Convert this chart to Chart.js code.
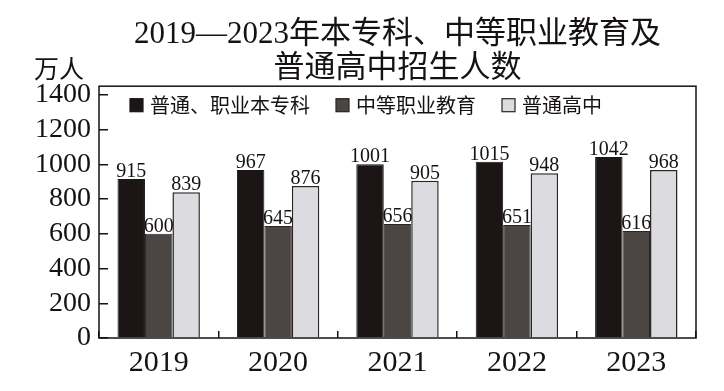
<!DOCTYPE html>
<html>
<head>
<meta charset="utf-8">
<script src="https://cdn.jsdelivr.net/npm/chart.js@4.4.1/dist/chart.umd.min.js"></script>
<style>
  html, body { margin: 0; padding: 0; background: #fff; }
  #wrap { width: 724px; height: 391px; position: relative; }
</style>
</head>
<body>
<div id="wrap"><canvas id="chart"></canvas></div>
<script>
// ── DATA ─────────────────────────────────────────────────────
const years        = ['2019', '2020', '2021', '2022', '2023'];
const higherEd     = [915, 967, 1001, 1015, 1042];   // 普通、职业本专科
const secondaryVoc = [600, 645, 656, 651, 616];      // 中等职业教育
const highSchool   = [839, 876, 905, 948, 968];      // 普通高中
const seriesNames  = ['普通、职业本专科', '中等职业教育', '普通高中'];
const titleLines   = ['2019—2023年本专科、中等职业教育及', '普通高中招生人数'];
const yUnit        = '万人';
const yTicks       = [0, 200, 400, 600, 800, 1000, 1200, 1400];
const yMin = 0, yMax = 1450;

// ── STYLE ────────────────────────────────────────────────────
const INK   = '#161212';
const SERIF = '"Liberation Serif", "Times New Roman", serif';
const CJK   = '"Noto Sans CJK SC", "Noto Sans", sans-serif';

// value labels; middle series drawn under the bars like the print
function drawLabels(chart, which) {
  const ctx = chart.ctx;
  ctx.save();
  ctx.font = '20px ' + SERIF;
  ctx.fillStyle = INK;
  ctx.textAlign = 'center';
  ctx.textBaseline = 'alphabetic';
  which.forEach(di => {
    chart.getDatasetMeta(di).data.forEach((bar, i) => {
      ctx.fillText(chart.data.datasets[di].data[i], bar.x, bar.y - 2);
    });
  });
  ctx.restore();
}

// legend row inside the plot frame, top-left
function drawLegend(chart) {
  const { ctx, chartArea: a } = chart;
  ctx.save();
  ctx.font = '20px ' + CJK;
  ctx.textBaseline = 'middle';
  ctx.textAlign = 'left';
  let x = a.left + 31;
  const y = a.top + 19;
  chart.data.datasets.forEach(ds => {
    ctx.fillStyle = ds.backgroundColor;
    ctx.fillRect(x, y - 6.5, 13, 13);
    ctx.strokeStyle = ds.borderColor;
    ctx.lineWidth = 1.2;
    ctx.strokeRect(x, y - 6.5, 13, 13);
    ctx.fillStyle = INK;
    ctx.fillText(ds.label, x + 20, y);
    x += 20 + ctx.measureText(ds.label).width + 26;
  });
  ctx.restore();
}

const decor = {
  id: 'decor',
  beforeDatasetsDraw(chart) { drawLabels(chart, [1]); },
  afterDatasetsDraw(chart)  { drawLabels(chart, [0, 2]); },
  afterDraw(chart) {
    const { ctx, chartArea: a } = chart;
    ctx.save();
    ctx.strokeStyle = INK;
    ctx.lineWidth = 1.5;
    ctx.strokeRect(a.left, a.top, a.right - a.left, a.bottom - a.top);
    ctx.font = '25px ' + CJK;
    ctx.fillStyle = INK;
    ctx.textAlign = 'right';
    ctx.textBaseline = 'middle';
    ctx.fillText(yUnit, a.left - 15, 68);
    ctx.restore();
    drawLegend(chart);
  }
};

new Chart(document.getElementById('chart'), {
  type: 'bar',
  data: {
    labels: years,
    datasets: [
      { label: seriesNames[0], data: higherEd,
        backgroundColor: '#1b1515', borderColor: '#1b1515', borderWidth: 1 },
      { label: seriesNames[1], data: secondaryVoc,
        backgroundColor: '#4b4644', borderColor: '#2a2424', borderWidth: 1 },
      { label: seriesNames[2], data: highSchool,
        backgroundColor: '#dcdce0', borderColor: '#2a2424', borderWidth: 1.5 },
    ],
  },
  plugins: [decor],
  options: {
    responsive: true,
    maintainAspectRatio: false,
    animation: false,
    layout: { padding: { left: 0, right: 28, top: 0, bottom: 0 } },
    datasets: { bar: { barPercentage: 1, categoryPercentage: 0.69 } },
    plugins: {
      tooltip: { enabled: false },
      legend: { display: false },
      title: {
        display: true,
        fullSize: false,
        text: titleLines,
        color: INK,
        font: { family: SERIF + ', ' + CJK, size: 31, weight: 'normal', lineHeight: 1.1 },
        padding: { top: 18, bottom: 0 },
      },
    },
    scales: {
      x: {
        afterFit: s => { s.height = 53; },
        border: { display: false },
        grid: { drawOnChartArea: false, tickLength: -7, color: INK, lineWidth: 1.5 },
        ticks: { color: INK, font: { family: SERIF, size: 30 }, padding: 14 },
      },
      y: {
        min: yMin, max: yMax,
        afterFit: s => { s.width = 99; },
        afterBuildTicks: s => { s.ticks = yTicks.map(v => ({ value: v })); },
        border: { display: false },
        grid: { drawOnChartArea: false, tickLength: -9, color: INK, lineWidth: 1.5 },
        ticks: {
          color: INK, font: { family: SERIF, size: 28 }, padding: 17,
          autoSkip: false,
          callback: v => String(v),
        },
      },
    },
  },
});
</script>
</body>
</html>
